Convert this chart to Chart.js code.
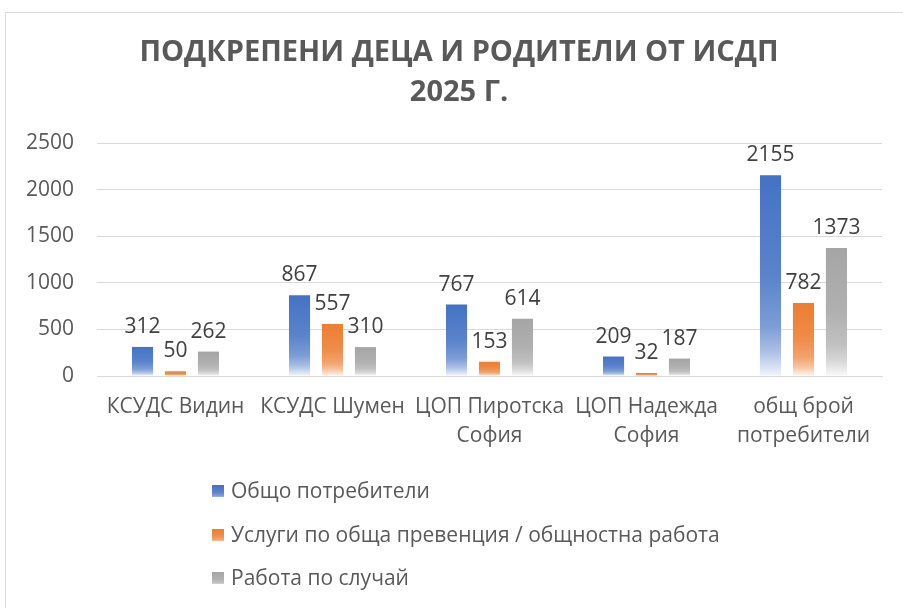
<!DOCTYPE html>
<html>
<head>
<meta charset="utf-8">
<script src="https://cdn.jsdelivr.net/npm/chart.js@4/dist/chart.umd.min.js"></script>
<style>
  html, body { margin: 0; padding: 0; background: #fff; }
  #wrap { position: relative; width: 903px; height: 608px; overflow: hidden; }
  #frame { position: absolute; left: 5px; top: 12px; width: 930px; height: 640px; border: 1px solid #D9D9D9; box-sizing: border-box; }
  canvas { position: absolute; left: 0; top: 0; }
</style>
</head>
<body>
<div id="wrap">
  <div id="frame"></div>
  <canvas id="c" width="903" height="608"></canvas>
</div>
<script>
const titleLines = ["ПОДКРЕПЕНИ ДЕЦА И РОДИТЕЛИ ОТ ИСДП", "2025 Г."];
const categories = [
  "КСУДС Видин",
  "КСУДС Шумен",
  ["ЦОП Пиротска", "София"],
  ["ЦОП Надежда", "София"],
  ["общ брой", "потребители"]
];
const seriesNames = [
  "Общо потребители",
  "Услуги по обща превенция / общностна работа",
  "Работа по случай"
];
const totalUsers = [312, 867, 767, 209, 2155];
const preventionWork = [50, 557, 153, 32, 782];
const caseWork = [262, 310, 614, 187, 1373];
const yTicks = [0, 500, 1000, 1500, 2000, 2500];
const seriesColors = ["#4472C4", "#ED7D31", "#A5A5A5"];

function hexToRgb(h) {
  const n = parseInt(h.slice(1), 16);
  return [(n >> 16) & 255, (n >> 8) & 255, n & 255];
}
function mixWhite(h, t) {
  const [r, g, b] = hexToRgb(h);
  return `rgb(${Math.round(r + (255 - r) * t)},${Math.round(g + (255 - g) * t)},${Math.round(b + (255 - b) * t)})`;
}
function makeGradient(c, base, top, bottom) {
  const g = c.createLinearGradient(0, top, 0, bottom);
  g.addColorStop(0, base);
  g.addColorStop(0.5, mixWhite(base, 0.12));
  g.addColorStop(0.75, mixWhite(base, 0.3));
  g.addColorStop(0.88, mixWhite(base, 0.55));
  g.addColorStop(1, mixWhite(base, 0.93));
  return g;
}
function barFill(base) {
  return function (ctx) {
    const chart = ctx.chart;
    if (!chart.chartArea || ctx.type !== 'data') return base;
    const ys = chart.scales.y;
    const top = ys.getPixelForValue(ctx.raw);
    const bottom = ys.getPixelForValue(0);
    if (!(bottom - top > 1)) return base;
    return makeGradient(chart.ctx, base, top, bottom);
  };
}

const titleDraw = {
  id: 'titleDraw',
  afterDraw(chart) {
    const c = chart.ctx;
    c.save();
    c.font = 'bold 29px "Open Sans"';
    c.fillStyle = '#595959';
    c.textAlign = 'center';
    c.textBaseline = 'middle';
    c.fillText(titleLines[0], 459, 53);
    c.fillText(titleLines[1], 459, 93);
    c.restore();
  }
};

const valueLabels = {
  id: 'valueLabels',
  afterDatasetsDraw(chart) {
    const c = chart.ctx;
    c.save();
    c.font = '21px "Open Sans"';
    c.fillStyle = '#404040';
    c.textAlign = 'center';
    c.textBaseline = 'alphabetic';
    chart.data.datasets.forEach((ds, i) => {
      const meta = chart.getDatasetMeta(i);
      meta.data.forEach((bar, j) => {
        c.fillText(String(ds.data[j]), bar.x, bar.y - 14);
      });
    });
    c.restore();
  }
};

const sideLegend = {
  id: 'sideLegend',
  afterDraw(chart) {
    const c = chart.ctx;
    c.save();
    c.font = '21px "Open Sans"';
    c.textBaseline = 'middle';
    const rows = [491, 535, 578];
    seriesNames.forEach((name, i) => {
      const y = rows[i];
      c.fillStyle = makeGradient(c, seriesColors[i], y - 6, y + 8);
      c.fillRect(212, y - 6, 12, 12);
      c.fillStyle = '#595959';
      c.fillText(name, 231, y + 1);
    });
    c.restore();
  }
};

new Chart(document.getElementById('c'), {
  type: 'bar',
  data: {
    labels: categories,
    datasets: [
      { label: seriesNames[0], data: totalUsers, backgroundColor: barFill(seriesColors[0]) },
      { label: seriesNames[1], data: preventionWork, backgroundColor: barFill(seriesColors[1]) },
      { label: seriesNames[2], data: caseWork, backgroundColor: barFill(seriesColors[2]) }
    ]
  },
  options: {
    responsive: false,
    animation: false,
    devicePixelRatio: 1,
    categoryPercentage: 0.63,
    barPercentage: 0.64,
    layout: { padding: { left: 0, right: 21, top: 143, bottom: 157 } },
    plugins: {
      legend: { display: false },
      tooltip: { enabled: false },
      title: { display: false }
    },
    scales: {
      x: {
        grid: { display: false, drawTicks: false },
        border: { display: true, color: '#D9D9D9', width: 1 },
        ticks: {
          color: '#595959',
          font: { family: 'Open Sans', size: 21, lineHeight: 1.4 },
          padding: 16,
          maxRotation: 0,
          autoSkip: false
        },
        afterFit(scale) { scale.height = 75; }
      },
      y: {
        min: 0,
        max: 2500,
        afterBuildTicks(scale) { scale.ticks = yTicks.map(v => ({ value: v })); },
        grid: { color: '#D9D9D9', lineWidth: 1, drawTicks: false },
        border: { display: false },
        ticks: {
          color: '#595959',
          font: { family: 'Open Sans', size: 21 },
          padding: 23,
          callback: (v) => String(v)
        },
        afterFit(scale) { scale.width = 97; }
      }
    }
  },
  plugins: [titleDraw, valueLabels, sideLegend]
});
</script>
</body>
</html>
